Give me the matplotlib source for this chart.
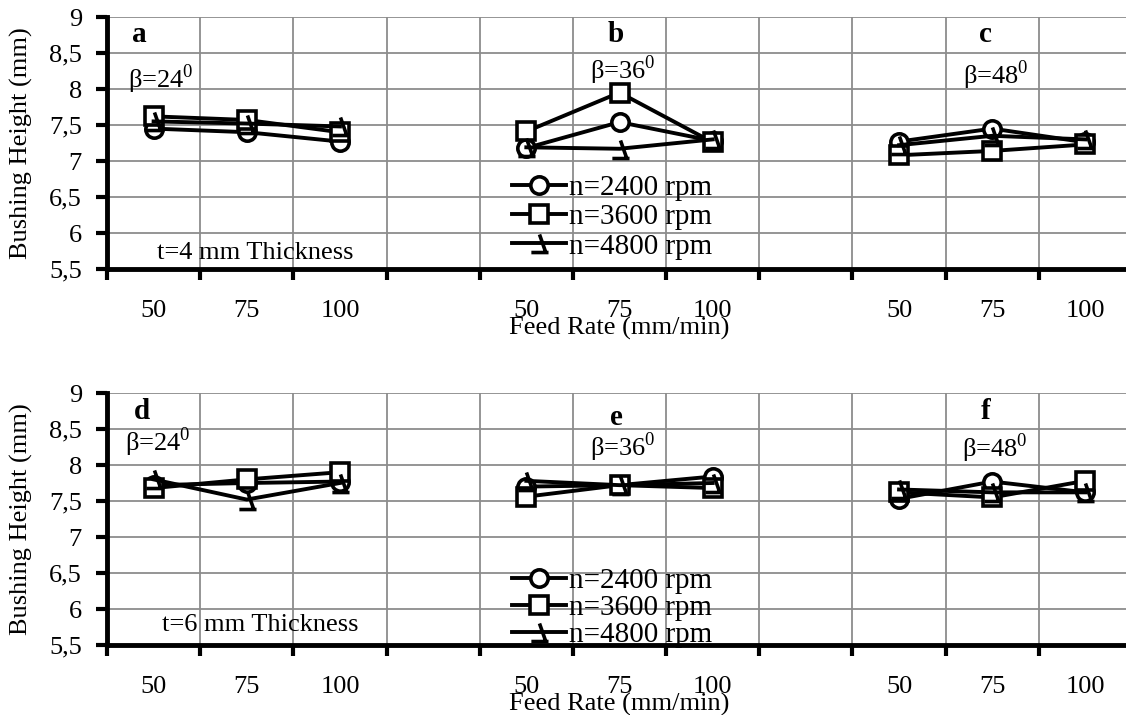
import numpy as np
import matplotlib.pyplot as plt
from matplotlib.path import Path
from matplotlib.lines import Line2D

plt.rcParams['font.family'] = ['Liberation Serif', 'DejaVu Serif']
plt.rcParams['font.size'] = 19
plt.rcParams['mathtext.fontset'] = 'custom'
plt.rcParams['mathtext.rm'] = 'Liberation Serif'

# categories (blank slots separate the three beta groups)
feed_labels = ['50', '75', '100', '', '50', '75', '100', '', '50', '75', '100']
nan = np.nan

# t = 4 mm
n2400_t4 = [7.45, 7.40, 7.27, nan, 7.18, 7.54, 7.28, nan, 7.27, 7.45, 7.26]
n3600_t4 = [7.62, 7.57, 7.40, nan, 7.41, 7.95, 7.26, nan, 7.08, 7.14, 7.23]
n4800_t4 = [7.55, 7.52, 7.48, nan, 7.19, 7.17, 7.30, nan, 7.22, 7.35, 7.30]

# t = 6 mm
n2400_t6 = [7.72, 7.75, 7.77, nan, 7.70, 7.72, 7.84, nan, 7.53, 7.77, 7.62]
n3600_t6 = [7.68, 7.80, 7.90, nan, 7.56, 7.72, 7.68, nan, 7.62, 7.55, 7.78]
n4800_t6 = [7.80, 7.52, 7.75, nan, 7.78, 7.72, 7.75, nan, 7.66, 7.62, 7.62]

rpm_labels = ['n=2400 rpm', 'n=3600 rpm', 'n=4800 rpm']
y_ticks = [5.5, 6, 6.5, 7, 7.5, 8, 8.5, 9]
y_tick_labels = ['5,5', '6', '6,5', '7', '7,5', '8', '8,5', '9']

# odd marker the 4800 series shows (slash with a foot)
hook = Path([(0, 0.5), (0.35, -0.5), (-0.45, -0.5), (0.5, -0.5)],
            [Path.MOVETO, Path.LINETO, Path.MOVETO, Path.LINETO])

styles = [dict(marker='o', ms=12.5, mfc='white'),
          dict(marker='s', ms=12.5, mfc='white'),
          dict(marker=hook, ms=13, mfc='none')]

x = np.arange(len(feed_labels))
W, H = 1126, 715
fig = plt.figure(figsize=(W / 100, H / 100), dpi=100)
ax_top = fig.add_axes([107 / W, (H - 269) / H, 1025 / W, 252 / H])
ax_bot = fig.add_axes([107 / W, (H - 645) / H, 1025 / W, 252 / H])


def style_axes(ax):
    ax.set_xlim(-0.5, 10.5)
    ax.set_ylim(5.5, 9)
    ax.set_yticks(y_ticks)
    ax.set_yticklabels(y_tick_labels)
    ax.set_xticks(x)
    ax.set_xticklabels(feed_labels)
    ax.set_xticks(np.arange(-0.5, 10.6, 1), minor=True)
    ax.tick_params(axis='x', which='major', length=0, pad=22)
    ax.tick_params(axis='x', which='minor', length=8, width=3, direction='out')
    ax.tick_params(axis='y', length=8, width=3, pad=10)
    ax.grid(True, which='minor', axis='x', color='#8c8c8c', lw=1.3)
    ax.grid(True, which='major', axis='y', color='#8c8c8c', lw=1.3)
    ax.set_axisbelow(True)
    for s in ['top', 'right']:
        ax.spines[s].set_visible(False)
    for s in ['left', 'bottom']:
        ax.spines[s].set_linewidth(3.5)
    ax.set_xlabel('Feed Rate (mm/min)', va='center')
    ax.xaxis.set_label_coords(0.5, -0.237)
    ax.set_ylabel('Bushing Height (mm)', va='center')
    ax.yaxis.set_label_coords(-0.083, 0.5)


def draw_series(ax, series):
    for vals, st in zip(series, styles):
        ax.plot(x, vals, color='black', lw=2.8, mec='black', mew=2.6, **st)


style_axes(ax_top)
style_axes(ax_bot)
draw_series(ax_top, [n2400_t4, n3600_t4, n4800_t4])
draw_series(ax_bot, [n2400_t6, n3600_t6, n4800_t6])

handles = [Line2D([], [], color='black', lw=2.8, mec='black', mew=2.6, **st)
           for st in styles]
ax_top.legend(handles, rpm_labels, loc='center left', bbox_to_anchor=(0.395, 0.206),
              frameon=False, fontsize=21, handlelength=1.85, handletextpad=0.1,
              labelspacing=0.1, borderpad=0, borderaxespad=0)
ax_bot.legend(handles, rpm_labels, loc='center left', bbox_to_anchor=(0.395, 0.148),
              frameon=False, fontsize=21, handlelength=1.85, handletextpad=0.1,
              labelspacing=0.02, borderpad=0, borderaxespad=0)

# panel letters and annotations
ax_top.text(-0.15, 8.76, 'a', fontweight='bold', ha='center', va='center', fontsize=21)
ax_top.text(0.08, 8.14, r'β=24$^{0}$', ha='center', va='center')
ax_top.text(1.09, 5.72, 't=4 mm Thickness', ha='center', va='center')
ax_top.text(4.96, 8.75, 'b', fontweight='bold', ha='center', va='center', fontsize=21)
ax_top.text(5.04, 8.26, r'β=36$^{0}$', ha='center', va='center')
ax_top.text(8.93, 8.76, 'c', fontweight='bold', ha='center', va='center', fontsize=21)
ax_top.text(9.04, 8.19, r'β=48$^{0}$', ha='center', va='center')

ax_bot.text(-0.12, 8.74, 'd', fontweight='bold', ha='center', va='center', fontsize=21)
ax_bot.text(0.04, 8.31, r'β=24$^{0}$', ha='center', va='center')
ax_bot.text(1.14, 5.78, 't=6 mm Thickness', ha='center', va='center')
ax_bot.text(4.97, 8.66, 'e', fontweight='bold', ha='center', va='center', fontsize=21)
ax_bot.text(5.04, 8.25, r'β=36$^{0}$', ha='center', va='center')
ax_bot.text(8.93, 8.74, 'f', fontweight='bold', ha='center', va='center', fontsize=21)
ax_bot.text(9.03, 8.24, r'β=48$^{0}$', ha='center', va='center')

fig.savefig('out.png', dpi=100)
